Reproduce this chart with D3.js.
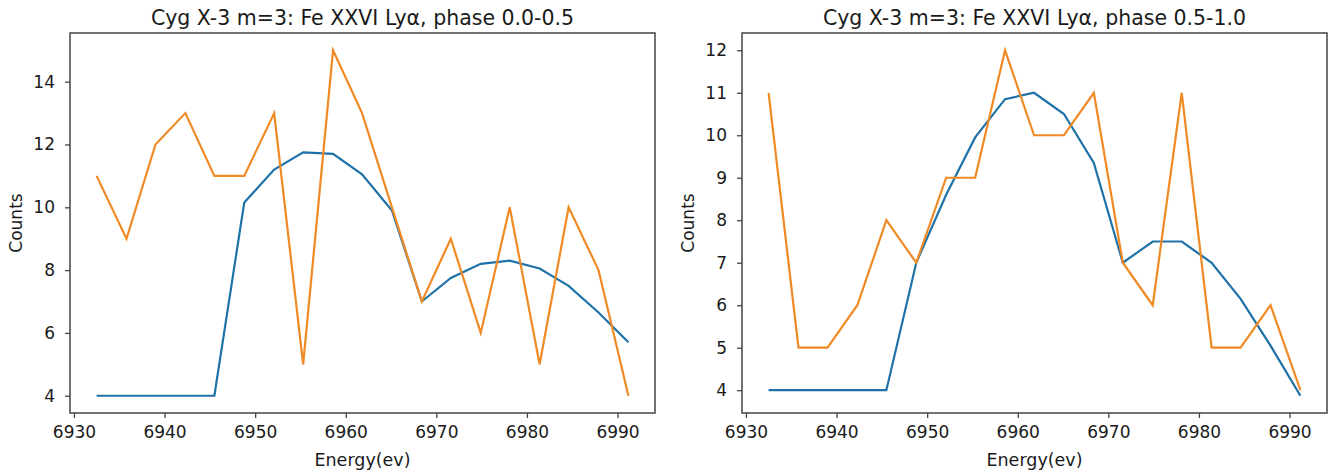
<!DOCTYPE html>
<html>
<head>
<meta charset="utf-8">
<script src="https://cdn.jsdelivr.net/npm/d3@7"></script>
<style>
  body { margin: 0; background: #fff; }
  text { font-family: 'DejaVu Sans', sans-serif; fill: #1a1a1a; }
</style>
</head>
<body>
<div id="chart"></div>
<script>
// energy bins (eV), shared by both panels
const energy = [6932.5, 6935.8, 6939.0, 6942.3, 6945.5, 6948.8, 6952.1, 6955.3, 6958.6, 6961.8,
  6965.1, 6968.4, 6971.6, 6974.9, 6978.1, 6981.4, 6984.6, 6987.9, 6991.2];

// phase 0.0-0.5
const modelA = [4, 4, 4, 4, 4, 10.15, 11.2, 11.75, 11.7, 11.05, 9.9, 7.0, 7.75, 8.2, 8.3, 8.05, 7.5, 6.65, 5.7];
const countsA = [11, 9, 12, 13, 11, 11, 13, 5, 15, 13, 10, 7, 9, 6, 10, 5, 10, 8, 4];

// phase 0.5-1.0
const modelB = [4, 4, 4, 4, 4, 7.0, 8.6, 9.95, 10.85, 11.0, 10.5, 9.35, 7.0, 7.5, 7.5, 7.0, 6.15, 5.05, 3.87];
const countsB = [11, 5, 5, 6, 8, 7, 9, 9, 12, 10, 10, 11, 7, 6, 11, 5, 5, 6, 4];

const xTicks = [6930, 6940, 6950, 6960, 6970, 6980, 6990];
const yTicksA = [4, 6, 8, 10, 12, 14];
const yTicksB = [4, 5, 6, 7, 8, 9, 10, 11, 12];

const panels = [
  { title: 'Cyg X-3 m=3: Fe XXVI Lyα, phase 0.0-0.5', model: modelA, counts: countsA, yTicks: yTicksA, left: 70 },
  { title: 'Cyg X-3 m=3: Fe XXVI Lyα, phase 0.5-1.0', model: modelB, counts: countsB, yTicks: yTicksB, left: 742 },
];

const width = 1340;
const height = 472;
const plotW = 585;
const plotTop = 33;
const plotBottom = 413;

const svg = d3.select('#chart').append('svg')
  .attr('width', width)
  .attr('height', height);

// matplotlib style 5% margins
function padded(ext) {
  const m = (ext[1] - ext[0]) * 0.05;
  return [ext[0] - m, ext[1] + m];
}

panels.forEach((p) => {
  const x = d3.scaleLinear()
    .domain(padded(d3.extent(energy)))
    .range([p.left, p.left + plotW]);
  const y = d3.scaleLinear()
    .domain(padded(d3.extent(p.model.concat(p.counts))))
    .range([plotBottom, plotTop]);

  const g = svg.append('g');

  const line = (vals) => d3.line()
    .x((d, i) => x(energy[i]))
    .y((d) => y(d))(vals);

  g.append('path')
    .attr('d', line(p.model))
    .attr('fill', 'none')
    .attr('stroke', '#1f72a8')
    .attr('stroke-width', 2.2);

  g.append('path')
    .attr('d', line(p.counts))
    .attr('fill', 'none')
    .attr('stroke', '#f08a24')
    .attr('stroke-width', 2.2);

  // axes
  const xAxis = g.append('g')
    .attr('transform', `translate(0,${plotBottom})`)
    .call(d3.axisBottom(x).tickValues(xTicks).tickFormat(d3.format('d')).tickSize(5).tickPadding(8));
  const yAxis = g.append('g')
    .attr('transform', `translate(${p.left},0)`)
    .call(d3.axisLeft(y).tickValues(p.yTicks).tickSize(5).tickPadding(10));

  [xAxis, yAxis].forEach((a) => {
    a.select('.domain').remove();
    a.selectAll('line').attr('stroke', '#444').attr('stroke-width', 1.3);
    a.selectAll('text')
      .attr('font-family', 'DejaVu Sans')
      .attr('font-size', 17)
      .attr('fill', '#1a1a1a');
  });

  // frame
  g.append('rect')
    .attr('x', p.left)
    .attr('y', plotTop)
    .attr('width', plotW)
    .attr('height', plotBottom - plotTop)
    .attr('fill', 'none')
    .attr('stroke', '#444')
    .attr('stroke-width', 1.5);

  g.append('text')
    .attr('x', p.left + plotW / 2)
    .attr('y', 25)
    .attr('text-anchor', 'middle')
    .attr('font-size', 20.5)
    .text(p.title);

  g.append('text')
    .attr('x', p.left + plotW / 2)
    .attr('y', 466)
    .attr('text-anchor', 'middle')
    .attr('font-size', 17.5)
    .text('Energy(ev)');

  g.append('text')
    .attr('transform', `translate(${p.left - 48},${(plotTop + plotBottom) / 2}) rotate(-90)`)
    .attr('text-anchor', 'middle')
    .attr('font-size', 17)
    .text('Counts');
});
</script>
</body>
</html>
